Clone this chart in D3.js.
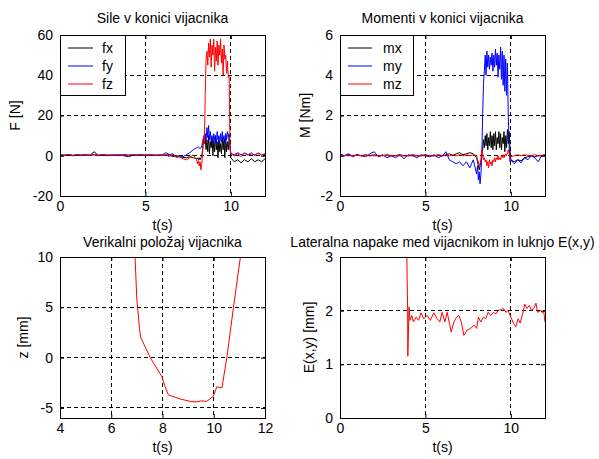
<!DOCTYPE html>
<html>
<head>
<meta charset="utf-8">
<script src="https://cdnjs.cloudflare.com/ajax/libs/d3/7.8.5/d3.min.js"></script>
<style>
    body { margin: 0; background: #fff; }
    svg { display: block; font-family: "Liberation Sans", Arial, sans-serif; }
</style>
</head>
<body>
<div id="fig"></div>
<script>
// time base for the force / moment signals (s)
var tSig = [0, 0.25, 0.5, 0.75, 1, 1.25, 1.5, 1.75, 2, 2.25, 2.5, 2.75, 3, 3.25, 3.5, 3.75, 4, 4.25, 4.5, 4.75, 5, 5.25, 5.5, 5.75, 6,
    6.2, 6.4, 6.6, 6.8, 7, 7.2, 7.4, 7.6, 7.8, 8,
    8.05, 8.1, 8.15, 8.2, 8.25, 8.3, 8.35, 8.4, 8.45, 8.5, 8.55, 8.6, 8.65, 8.7, 8.75, 8.8, 8.85, 8.9, 8.95, 9,
    9.05, 9.1, 9.15, 9.2, 9.25, 9.3, 9.35, 9.4, 9.45, 9.5, 9.55, 9.6, 9.65, 9.7, 9.75, 9.8, 9.85, 9.9, 9.95, 10,
    10.2, 10.4, 10.6, 10.8, 11, 11.2, 11.4, 11.6, 11.8, 12];

// forces (N)
var fx = [0.2, 0.1, 0.3, 0, 0.2, 0.1, 0.3, 0.2, 2.0, 0.1, 0.3, 0, 0.2, 0.1, 0.3, 0, -0.5, 0.2, 0.1, 0.3, 0, 0.2, 0.1, 0.3, 0.2,
    0.3, 0.5, -0.5, 0.2, -0.5, -0.8, -1, -0.5, -1, -1.5,
    -1, -2, -1, -2, -1, 0, 3, 8, 6, 9, 3, 8, 2, 10, 1, 7, 4, 9, 0, 8,
    2, 10, 3, 7, -1, 9, 2, 6, 1, 9, 3, 8, -1, 9, 2, 7, 3, 9, 5, -1,
    -3, -2, -3.5, -2, -3, -1.5, -3, -2, -3, -1.5];
var fy = [0.5, 0.3, 0.6, 0.2, 0.5, 0.4, 0.6, 0.3, 0.5, 0.2, 0.6, 0.4, 0.3, 0.5, 0.2, 0.6, 0.3, 0.5, 0.4, 0.6, 0.3, 0.5, 0.4, 0.2, 0.5,
    1.5, 0.5, 1, -0.5, 0, -0.5, 0.5, 1.5, 3, 4,
    4, 4.5, 4, 3.5, 4, 5, 7, 9, 6, 11, 8, 14, 9, 15, 8, 12, 7, 10, 6, 11,
    8, 10, 6, 12, 8, 10, 6, 11, 7, 12, 8, 10, 6, 11, 8, 12, 9, 11, 5, 1,
    0.5, 1.5, 0.5, 1.2, 0.3, 1, 0.5, 1.2, 0.4, 0.8];
var fz = [0.5, 0.3, 0.6, 0.2, 0.5, 0.3, 0.4, 0.2, 0.5, 0.3, 0.6, 0.2, 0.4, 0.3, 0.5, 0.2, 0.4, 0.5, 0.3, 0.4, 0.2, 0.5, 0.3, 0.4, 0.2,
    0.5, -0.5, 0.8, -1, -0.5, -1.5, -2, -1, 0.5, -2,
    -4, -2.5, -5, -3, -7, -4, 2, 10, 6, 30, 48, 52, 45, 56, 49, 58, 44, 55, 50, 58,
    42, 54, 47, 57, 45, 55, 50, 58, 46, 53, 40, 55, 48, 50, 41, 47, 39, 40, 4, 1,
    0, 1, -0.5, 1.5, 0.5, 1.5, 0, 1.5, 0.5, 1];

// moments (Nm)
var mx = [0.05, 0, 0.05, 0, 0.05, 0, 0.05, 0, 0.05, 0, 0, 0.05, 0, 0, 0.05, 0, 0, 0.05, 0, 0, 0.05, 0, 0, 0.05, 0,
    0.05, 0.1, 0, 0.1, 0.15, 0.05, 0.1, 0.15, 0.1, -0.1,
    -0.3, -0.5, -0.7, -0.5, -0.3, 0, 0.3, 0.8, 0.4, 1.0, 0.5, 1.1, 0.3, 0.9, 0.5, 1.2, 0.4, 1.0, 0.3, 1.1,
    0.5, 1.2, 0.3, 0.9, 0.6, 1.2, 0.4, 1.1, 0.3, 0.9, 0.6, 1.2, 0.2, 1.0, 0.4, 1.3, 0.6, 1.2, 0.3, -0.2,
    -0.3, -0.2, -0.25, -0.1, -0.05, 0, -0.05, 0, 0, 0];
var my = [0.1, 0, 0.1, -0.05, 0.05, 0, -0.05, 0.1, 0.2, -0.05, 0.05, -0.1, 0, -0.1, 0.05, -0.15, 0.05, 0, -0.1, 0.05, 0, -0.05, 0.05, -0.1, 0,
    0.2, -0.2, -0.3, -0.4, -0.3, -0.5, -0.3, -0.6, -0.2, -0.9,
    -0.5, -1.2, -0.8, -1.4, -0.9, 0, 2.0, 3.6, 4.2, 5.0, 4.0, 5.2, 4.4, 5.0, 4.3, 4.9, 4.5, 5.1, 4.2, 5.0,
    4.4, 5.3, 4.5, 5.1, 3.9, 5.0, 4.3, 5.4, 3.8, 5.2, 3.5, 5.0, 3.2, 4.8, 3.0, 4.6, 2.0, 0.5, -0.3, -0.2,
    -0.4, -0.2, -0.35, -0.1, -0.2, 0, -0.1, -0.3, 0, 0.05];
var mz = [0, 0.02, 0, 0, 0.02, 0, 0, 0, 0, 0, 0.02, 0, 0, 0, 0, 0, 0, 0, 0, 0, 0, 0, 0, 0, 0,
    0, 0, 0.05, 0, 0.05, 0, 0.05, 0, 0.05, 0,
    -0.2, -0.3, -0.5, -0.4, -0.2, 0.3, 0.1, -0.2, -0.1, -0.3, -0.2, -0.5, -0.3, -0.6, -0.2, -0.4, -0.3, -0.5, -0.2, -0.3,
    -0.1, -0.3, -0.1, -0.2, 0, -0.2, -0.1, -0.2, 0, -0.1, 0.05, -0.1, 0, 0.1, 0, 0.15, 0.3, 0.1, -0.1, -0.05,
    0, 0.05, 0, 0.05, 0.02, 0, 0.05, 0, 0.02, 0.05];

// vertical position of the screwdriver (mm)
var tZ = [6.92, 7.0, 7.04, 7.1, 7.15, 7.52, 7.98, 8.1, 8.23, 8.68, 9.08, 9.34, 9.5, 9.72, 9.98, 10.12, 10.32, 10.51, 10.77, 11.03, 11.1];
var zPos = [10.5, 5.7, 4.7, 2.9, 2.0, 0, -1.9, -2.9, -3.7, -4.1, -4.35, -4.4, -4.3, -4.35, -3.86, -2.9, -3.0, 0, 5.0, 9.8, 10.6];

// lateral error E(x,y) (mm)
var tE = [3.9, 3.93, 3.96, 3.97, 4.04, 4.1, 4.2, 4.3, 4.46, 4.6, 4.74, 4.9, 5.1, 5.29, 5.49, 5.69, 5.84, 5.98, 6.14, 6.27,
    6.41, 6.51, 6.67, 6.82, 6.96, 7.1, 7.25, 7.45, 7.65, 7.84, 8.0, 8.1, 8.24, 8.4, 8.53, 8.67, 8.82, 8.98, 9.12, 9.25,
    9.41, 9.57, 9.71, 9.84, 10.0, 10.16, 10.29, 10.43, 10.55, 10.69, 10.82, 10.94, 11.08, 11.22, 11.37, 11.47, 11.57, 11.73, 11.86, 11.92, 12.0];
var eLat = [3.4, 2.6, 2.0, 1.15, 2.07, 1.82, 1.91, 1.79, 1.88, 1.82, 1.96, 1.85, 1.91, 1.82, 1.96, 1.85, 1.79, 1.97, 1.79, 1.97,
    1.76, 1.6, 1.79, 1.88, 1.91, 1.79, 1.54, 1.64, 1.67, 1.73, 1.67, 1.88, 1.79, 1.88, 1.85, 1.97, 1.91, 1.97, 1.94, 2.0,
    2.02, 2.04, 1.97, 2.0, 1.88, 1.76, 1.7, 1.85, 1.77, 1.94, 2.12, 2.04, 2.1, 2.0, 2.06, 2.14, 1.97, 2.0, 1.96, 2.0, 1.79];

// ticks
var ticksT12 = [0, 5, 10];
var ticksT4 = [4, 6, 8, 10, 12];
var ticksF = [-20, 0, 20, 40, 60];
var ticksM = [-2, 0, 2, 4, 6];
var ticksZ = [-5, 0, 5, 10];
var ticksE = [0, 1, 2, 3];

var W = 599, H = 459;
var svg = d3.select("#fig").append("svg").attr("width", W).attr("height", H);
svg.append("rect").attr("width", W).attr("height", H).attr("fill", "#fff");

var clipId = 0;
// plain hyphen minus like the original
var fmt = function (d) { return String(d); };

function panel(cfg) {
    var x = d3.scaleLinear().domain(cfg.xDomain).range([cfg.left, cfg.right]);
    var y = d3.scaleLinear().domain(cfg.yDomain).range([cfg.bottom, cfg.top]);
    var g = svg.append("g");
    var cid = "clip" + (clipId++);

    g.append("clipPath").attr("id", cid).append("rect")
        .attr("x", cfg.left).attr("y", cfg.top)
        .attr("width", cfg.right - cfg.left).attr("height", cfg.bottom - cfg.top);

    // dashed grid
    g.selectAll(".gx").data(cfg.xTicks).enter().append("line")
        .attr("x1", function (d) { return x(d); }).attr("x2", function (d) { return x(d); })
        .attr("y1", cfg.top).attr("y2", cfg.bottom)
        .attr("stroke", "#000").attr("stroke-dasharray", "4,3").attr("shape-rendering", "crispEdges");
    g.selectAll(".gy").data(cfg.yTicks).enter().append("line")
        .attr("y1", function (d) { return y(d); }).attr("y2", function (d) { return y(d); })
        .attr("x1", cfg.left).attr("x2", cfg.right)
        .attr("stroke", "#000").attr("stroke-dasharray", "4,3").attr("shape-rendering", "crispEdges");

    // data lines
    var plot = g.append("g").attr("clip-path", "url(#" + cid + ")");
    cfg.series.forEach(function (s) {
        var pts = s.t.map(function (tv, i) { return [tv, s.v[i]]; });
        plot.append("path")
            .datum(pts)
            .attr("fill", "none")
            .attr("stroke", s.color)
            .attr("stroke-width", 1)
            .attr("d", d3.line().x(function (d) { return x(d[0]); }).y(function (d) { return y(d[1]); }));
    });

    // axes with inward ticks
    var bottom = g.append("g").attr("transform", "translate(0," + cfg.bottom + ")")
        .call(d3.axisBottom(x).tickValues(cfg.xTicks).tickFormat(fmt).tickSizeInner(-4).tickSizeOuter(0).tickPadding(5));
    var left = g.append("g").attr("transform", "translate(" + cfg.left + ",0)")
        .call(d3.axisLeft(y).tickValues(cfg.yTicks).tickFormat(fmt).tickSizeInner(-4).tickSizeOuter(0).tickPadding(7));
    g.append("g").attr("transform", "translate(0," + cfg.top + ")")
        .call(d3.axisTop(x).tickValues(cfg.xTicks).tickSizeInner(-4).tickSizeOuter(0).tickFormat(""));
    g.append("g").attr("transform", "translate(" + cfg.right + ",0)")
        .call(d3.axisRight(y).tickValues(cfg.yTicks).tickSizeInner(-4).tickSizeOuter(0).tickFormat(""));
    g.selectAll(".domain").remove();
    g.selectAll(".tick line").attr("stroke", "#000");
    [bottom, left].forEach(function (a) {
        a.selectAll("text").attr("fill", "#000").style("font-size", "14px")
            .style("font-family", '"Liberation Sans", Arial, sans-serif');
    });

    // frame
    g.append("rect")
        .attr("x", cfg.left + 0.5).attr("y", cfg.top + 0.5)
        .attr("width", cfg.right - cfg.left).attr("height", cfg.bottom - cfg.top)
        .attr("fill", "none").attr("stroke", "#000");

    var cx = (cfg.left + cfg.right) / 2;
    g.append("text").attr("x", cx).attr("y", cfg.top - cfg.titleGap)
        .attr("text-anchor", "middle").style("font-size", "14px").text(cfg.title);
    g.append("text").attr("x", cx).attr("y", cfg.bottom + 34)
        .attr("text-anchor", "middle").style("font-size", "14px").text("t(s)");
    g.append("text")
        .attr("transform", "translate(" + cfg.yLabelX + "," + ((cfg.top + cfg.bottom) / 2) + ")rotate(-90)")
        .attr("text-anchor", "middle").style("font-size", "14px").text(cfg.yLabel);

    // legend
    if (cfg.legend) {
        var lg = g.append("g");
        lg.append("rect")
            .attr("x", cfg.left + 0.5).attr("y", cfg.top + 0.5)
            .attr("width", cfg.legend.w).attr("height", 60)
            .attr("fill", "#fff").attr("stroke", "#000");
        cfg.series.forEach(function (s, i) {
            var yy = cfg.top + 13 + i * 18;
            lg.append("line")
                .attr("x1", cfg.left + 8).attr("x2", cfg.left + cfg.legend.lineEnd)
                .attr("y1", yy).attr("y2", yy)
                .attr("stroke", s.color);
            lg.append("text")
                .attr("x", cfg.left + cfg.legend.textX).attr("y", yy + 5)
                .style("font-size", "14px").text(s.name);
        });
    }
}

panel({
    left: 60, right: 265, top: 35, bottom: 196,
    xDomain: [0, 12], yDomain: [-20, 60],
    xTicks: ticksT12, yTicks: ticksF,
    title: "Sile v konici vijacnika", titleGap: 12, yLabel: "F [N]", yLabelX: 20,
    series: [
        { name: "fx", t: tSig, v: fx, color: "#000000" },
        { name: "fy", t: tSig, v: fy, color: "#0000ff" },
        { name: "fz", t: tSig, v: fz, color: "#ff0000" }
    ],
    legend: { w: 65, lineEnd: 33, textX: 42 }
});

panel({
    left: 340, right: 545, top: 35, bottom: 196,
    xDomain: [0, 12], yDomain: [-2, 6],
    xTicks: ticksT12, yTicks: ticksM,
    title: "Momenti v konici vijacnika", titleGap: 12, yLabel: "M [Nm]", yLabelX: 310,
    series: [
        { name: "mx", t: tSig, v: mx, color: "#000000" },
        { name: "my", t: tSig, v: my, color: "#0000ff" },
        { name: "mz", t: tSig, v: mz, color: "#ff0000" }
    ],
    legend: { w: 73, lineEnd: 32, textX: 43 }
});

panel({
    left: 60, right: 265, top: 257, bottom: 418,
    xDomain: [4, 12], yDomain: [-6, 10],
    xTicks: ticksT4, yTicks: ticksZ,
    title: "Verikalni položaj vijacnika", titleGap: 10, yLabel: "z [mm]", yLabelX: 28,
    series: [{ name: "z", t: tZ, v: zPos, color: "#ff0000" }]
});

panel({
    left: 340, right: 545, top: 257, bottom: 418,
    xDomain: [0, 12], yDomain: [0, 3],
    xTicks: ticksT12, yTicks: ticksE,
    title: "Lateralna napake med vijacnikom in luknjo E(x,y)", titleGap: 10, yLabel: "E(x,y) [mm]", yLabelX: 314,
    series: [{ name: "E", t: tE, v: eLat, color: "#ff0000" }]
});
</script>
</body>
</html>
